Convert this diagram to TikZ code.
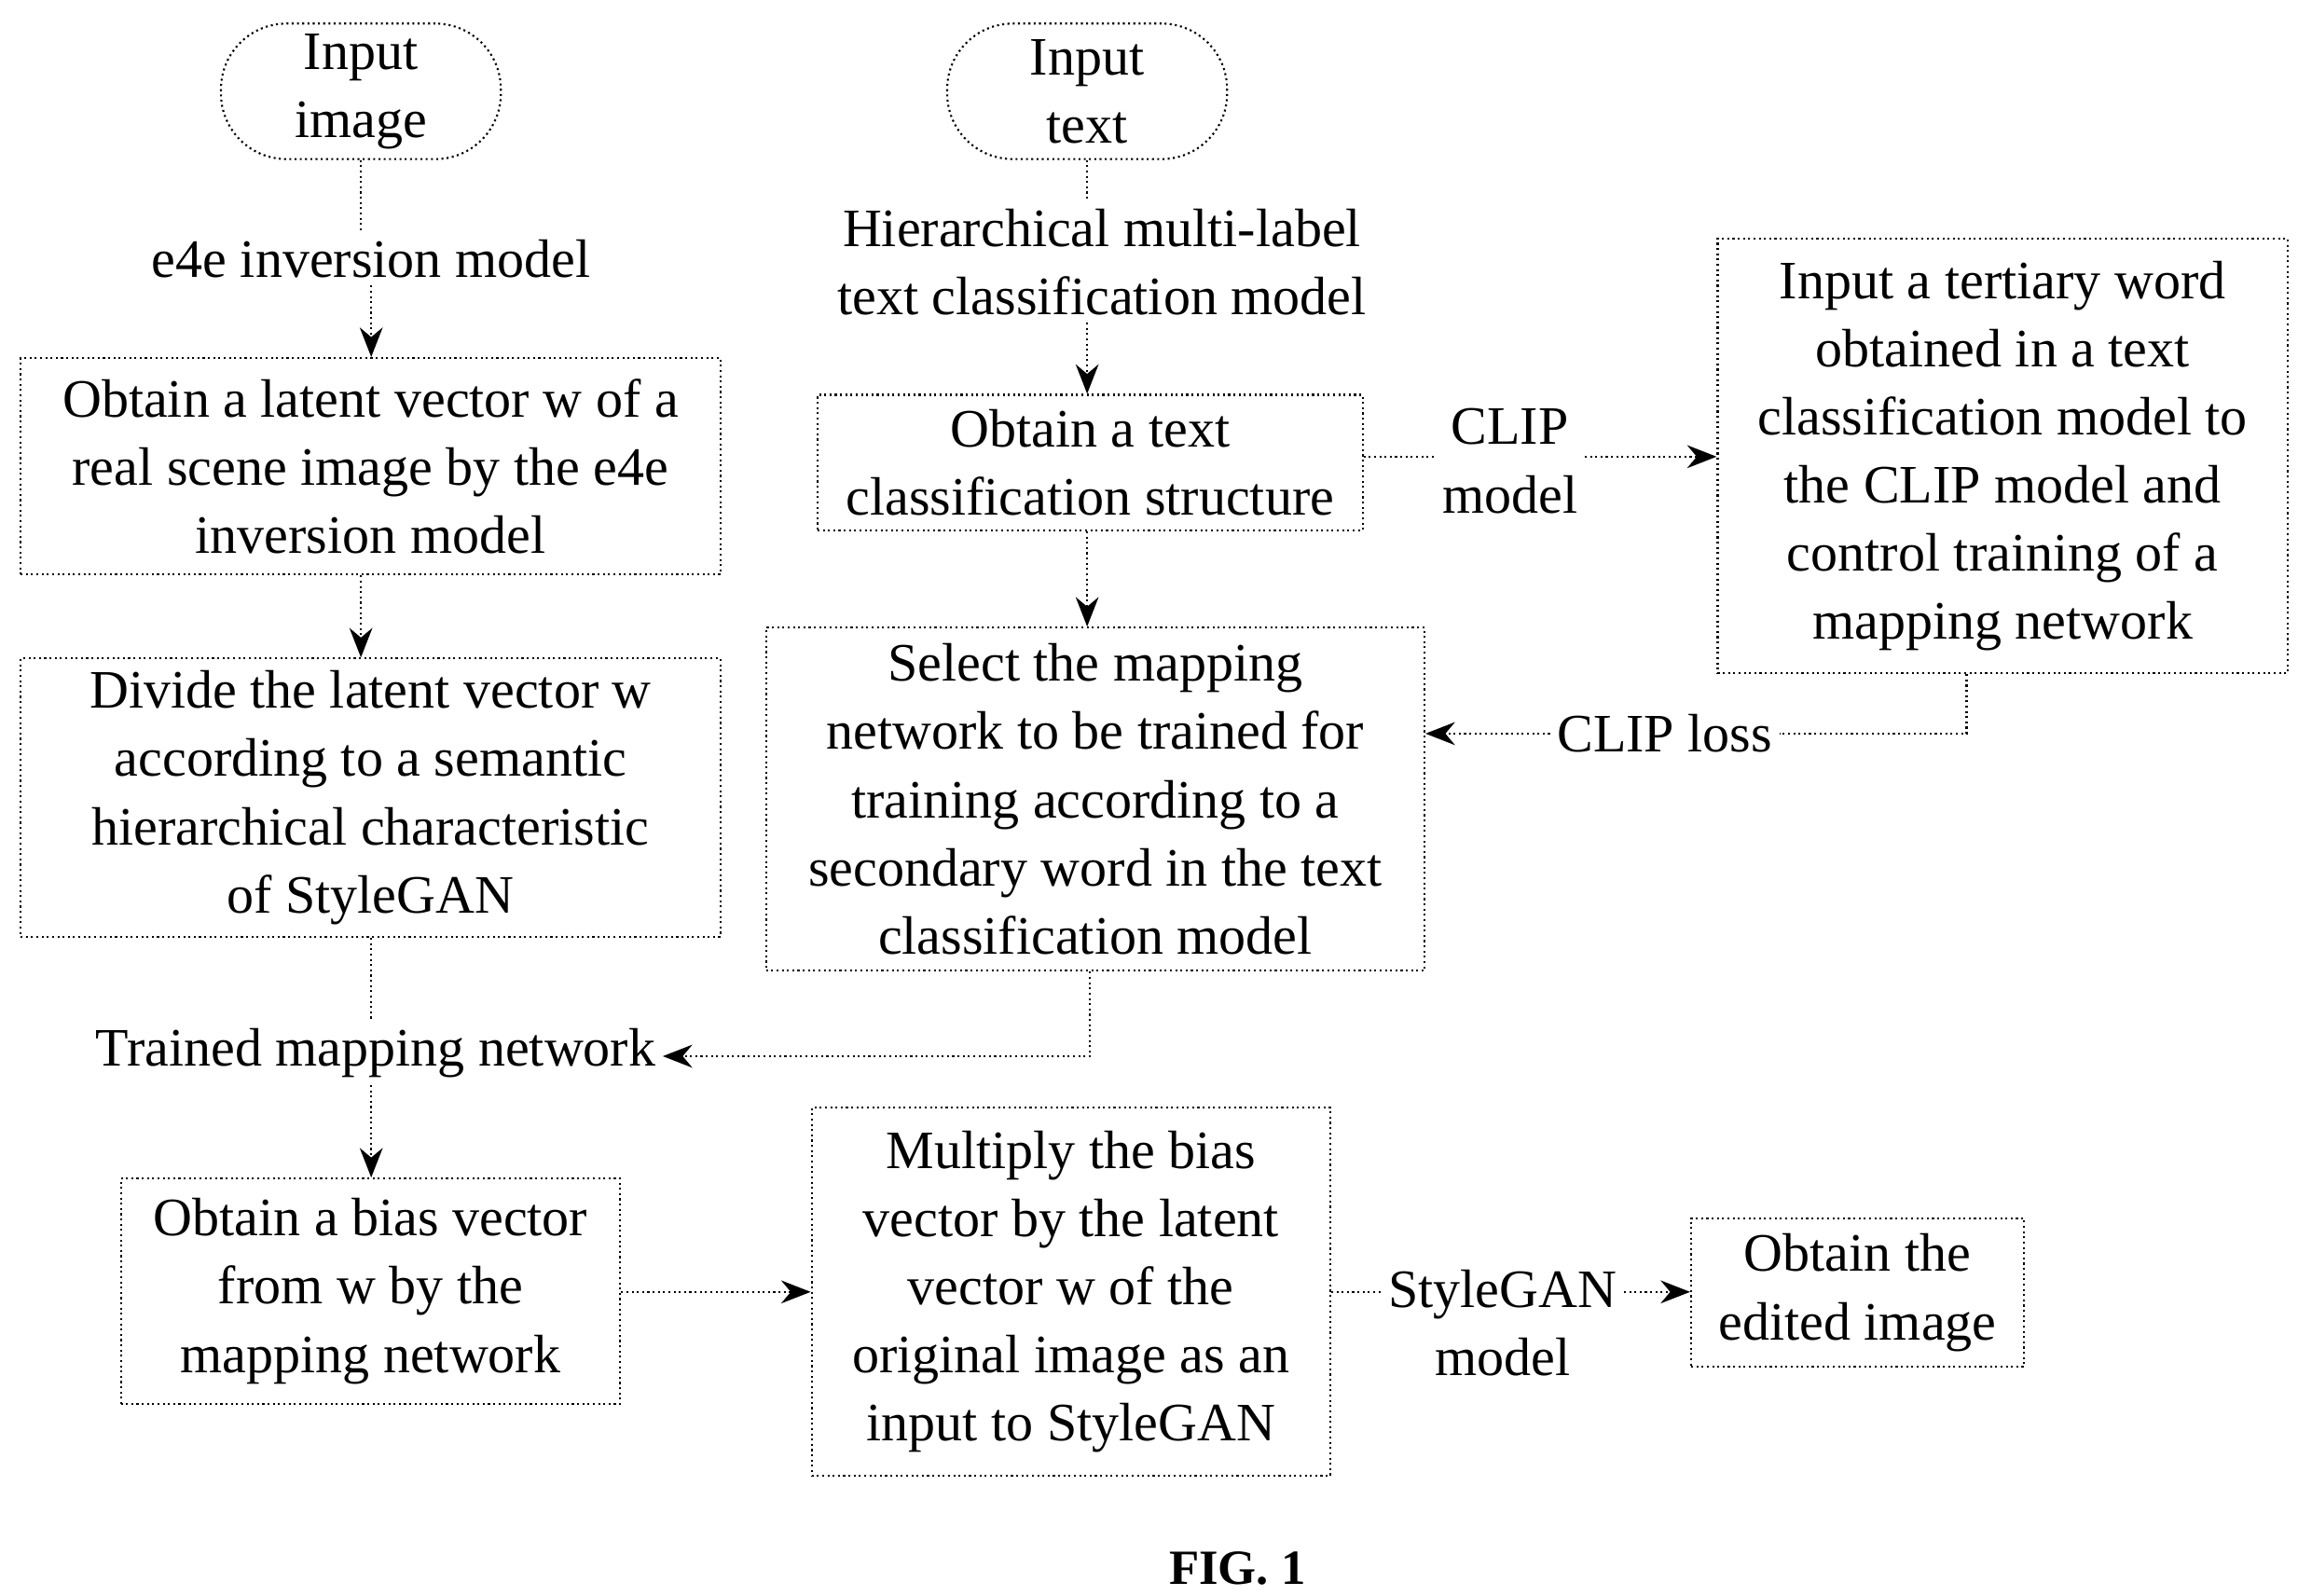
\documentclass[tikz,border=0pt]{standalone}
\usepackage{fontspec}
\setmainfont{Liberation Serif}
\usetikzlibrary{arrows.meta}
\begin{document}
\begin{tikzpicture}[x=0.0158cm,y=-0.0158cm,
  every node/.style={font=\fontsize{16.5pt}{20.8pt}\selectfont, align=center, inner sep=0pt},
  box/.style 2 args={draw, densely dotted, line width=0.6pt, minimum width=#1*0.0158cm, minimum height=#2*0.0158cm},
  lab/.style={fill=white, inner sep=2pt},
  ln/.style={densely dotted, line width=0.6pt},
  ar/.style={ln, -{Stealth[length=9pt,width=7pt]}}]
\useasboundingbox (0,0) rectangle (1560,1083);
\node[box={190}{92}, rounded corners=20pt] (ii) at (245,62) {Input\\image};
\node[box={190}{92}, rounded corners=20pt] (it) at (738,62) {Input\\text};
\node[lab] (e4e) at (252,176) {e4e inversion model};
\node[box={475}{147}] (b1) at (251.5,316.5) {Obtain a latent vector w of a\\real scene image by the e4e\\inversion model};
\node[box={475}{189}] (b2) at (251.5,541.5) {Divide the latent vector w\\according to a semantic\\hierarchical characteristic\\of StyleGAN};
\node[lab] (tmn) at (255,715) {Trained mapping network};
\node[box={339}{153}] (b3) at (251.5,876.5) {Obtain a bias vector\\from w by the\\mapping network};
\node[lab] (hier) at (748,178) {Hierarchical multi-label\\text classification model};
\node[box={370}{92}] (tc) at (740,314) {Obtain a text\\classification structure};
\node[lab] (clip) at (1025,313) {CLIP\\model};
\node[box={387}{295}] (rb) at (1359.5,309.5) {Input a tertiary word\\obtained in a text\\classification model to\\the CLIP model and\\control training of a\\mapping network};
\node[box={447}{233}] (sel) at (743.5,542.5) {Select the mapping\\network to be trained for\\training according to a\\secondary word in the text\\classification model};
\node[lab] (loss) at (1130,498) {CLIP loss};
\node[box={352}{250}] (mul) at (727,877) {Multiply the bias\\vector by the latent\\vector w of the\\original image as an\\input to StyleGAN};
\node[lab] (sg) at (1020,898) {StyleGAN\\model};
\node[box={226}{101}] (ed) at (1261,877.5) {Obtain the\\edited image};
\node[font=\bfseries\fontsize{15pt}{18pt}\selectfont] (fig) at (840,1065) {FIG. 1};
% connectors
\draw[ln] (ii) -- (ii|-e4e.north);
\draw[ar] (e4e) -- (e4e|-b1.north);
\draw[ar] (b1.south-|245,0) -- (b2.north-|245,0);
\draw[ln] (b2.south-|252,0) -- (tmn.north-|252,0);
\draw[ar] (tmn.south-|252,0) -- (b3.north-|252,0);
\draw[ar] (b3.east|-0,877) -- (mul.west|-0,877);
\draw[ln] (mul.east|-0,877) -- (sg.west|-0,877);
\draw[ar] (sg.east|-0,877) -- (ed.west|-0,877);
\draw[ln] (it) -- (it|-hier.north);
\draw[ar] (hier.south-|738,0) -- (tc.north-|738,0);
\draw[ln] (tc.east|-0,310) -- (clip.west|-0,310);
\draw[ar] (clip.east|-0,310) -- (rb.west|-0,310);
\draw[ar] (tc.south-|738,0) -- (sel.north-|738,0);
\draw[ln] (rb.south-|1335,0) -- (1335,498) -- (loss.east|-0,498);
\draw[ar] (loss.west|-0,498) -- (sel.east|-0,498);
\draw[ar] (sel.south-|740,0) -- (740,717) -- (tmn.east|-0,717);
\end{tikzpicture}
\end{document}
